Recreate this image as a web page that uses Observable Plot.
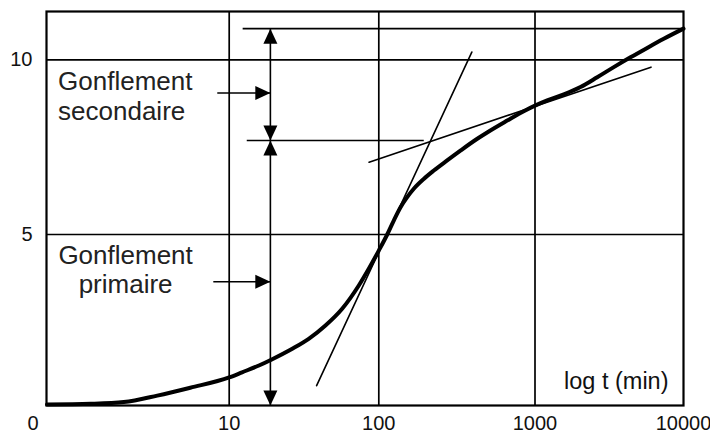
<!DOCTYPE html>
<html>
<head>
<meta charset="utf-8">
<script src="https://cdn.jsdelivr.net/npm/d3@7"></script>
<script src="https://cdn.jsdelivr.net/npm/@observablehq/plot@0.6"></script>
<style>
  html, body { margin: 0; padding: 0; background: #fff; }
  svg { display: block; }
</style>
</head>
<body>
<div id="chart"></div>
<script>
// ---- data ----
const timeMin  = [1, 1.74, 2.64, 4.03, 6.12, 10, 12.2, 15.8, 19.1, 26.4, 34.0, 44.0, 56.9, 73.5, 85.7, 100, 113.2, 124.7, 137.8, 152, 167.5, 194, 225, 274, 333, 427, 494, 664, 847, 1000, 1208, 1563, 2025, 2624, 3394, 4396, 5698, 7365, 10000];
const swelling = [0.03, 0.05, 0.10, 0.29, 0.52, 0.82, 0.97, 1.17, 1.34, 1.66, 1.95, 2.34, 2.83, 3.51, 4.00, 4.53, 5.00, 5.40, 5.78, 6.07, 6.31, 6.59, 6.83, 7.12, 7.40, 7.74, 7.92, 8.26, 8.53, 8.69, 8.84, 9.01, 9.22, 9.50, 9.79, 10.07, 10.34, 10.60, 10.89];

const steepTangentT = [38.4, 394];
const steepTangentY = [0.58, 10.22];
const slowTangentT  = [86.1, 6040];
const slowTangentY  = [7.07, 9.79];

const levelFinal = 10.89;     // end of swelling
const levelPrimary = 7.69;    // end of primary swelling
const levelStartT = [12.3, 13.1];
const levelEndT = [10000, 194];
const measureT = 18.85;       // t of the vertical dimension arrow

const xTicks = [10, 100, 1000, 10000];
const yTicks = [5, 10];
const xGrid = [10, 100, 1000];
const yGrid = [5, 10];

const labelSecondary = ["Gonflement", "secondaire"];
const labelPrimary = ["Gonflement", "primaire"];
const labelSecondaryPos = {t: 1.15, y: 8.29, arrowFromT: 8.6, arrowY: 9.05};
const labelPrimaryPos = {t: 2.70, y: 3.30, arrowFromT: 8.18, arrowY: 3.62};
const axisTitle = "log t (min)";
const originLabel = "0";

// ---- derived tables ----
const curve = timeMin.map((t, i) => ({t, y: swelling[i]}));
const steep = steepTangentT.map((t, i) => ({t, y: steepTangentY[i]}));
const slow = slowTangentT.map((t, i) => ({t, y: slowTangentY[i]}));
const levels = [
  {t1: levelStartT[0], t2: levelEndT[0], y: levelFinal},
  {t1: levelStartT[1], t2: levelEndT[1], y: levelPrimary}
];
const shafts = [
  {x1: measureT, x2: measureT, y1: 0, y2: levelFinal},
  {x1: labelSecondaryPos.arrowFromT, x2: measureT, y1: labelSecondaryPos.arrowY, y2: labelSecondaryPos.arrowY},
  {x1: labelPrimaryPos.arrowFromT, x2: measureT, y1: labelPrimaryPos.arrowY, y2: labelPrimaryPos.arrowY}
];
const heads = [
  {t: measureT, y: levelFinal, rot: 0},
  {t: measureT, y: levelPrimary, rot: 180},
  {t: measureT, y: levelPrimary, rot: 0},
  {t: measureT, y: 0, rot: 180},
  {t: measureT, y: labelSecondaryPos.arrowY, rot: 90},
  {t: measureT, y: labelPrimaryPos.arrowY, rot: 90}
];

// filled arrowhead, tip at origin, pointing up
const arrowHead = {
  draw(ctx, size) {
    const r = Math.sqrt(size / Math.PI);
    const h = 2.15 * r;
    ctx.moveTo(0, 0);
    ctx.lineTo(r, h);
    ctx.lineTo(-r, h);
    ctx.closePath();
  }
};

const font = "'Liberation Sans', Arial, Helvetica, sans-serif";

const chart = Plot.plot({
  width: 710,
  height: 434,
  marginLeft: 46,
  marginRight: 27,
  marginTop: 11,
  marginBottom: 29,
  style: {fontFamily: font, fontSize: "20px", color: "#000", background: "#fff"},
  x: {type: "log", domain: [1, 10, 100, 1000, 10000], range: [46.5, 228.7, 378.3, 534.5, 683]},
  y: {type: "linear", domain: [0, 5, 10, 11.38], range: [405, 234, 59.3, 11]},
  marks: [
    Plot.ruleX(xGrid, {stroke: "#000", strokeWidth: 1.7}),
    Plot.ruleY(yGrid, {stroke: "#000", strokeWidth: 1.7}),
    Plot.frame({stroke: "#000", strokeWidth: 2.2}),
    Plot.axisX(xTicks, {tickSize: 0, tickPadding: 10, tickFormat: d => String(d), fontSize: 20, label: null, fill: "#111"}),
    Plot.axisY(yTicks, {tickSize: 0, tickPadding: 14, tickFormat: d => String(d), fontSize: 20, label: null, fill: "#111"}),
    Plot.text([originLabel], {x: () => 1, y: () => 0, text: d => d, dx: -14, dy: 10, lineAnchor: "top", fontSize: 20, fill: "#111"}),
    Plot.text([axisTitle], {x: () => 10000, y: () => 0, text: d => d, dx: -15, dy: -17, textAnchor: "end", lineAnchor: "bottom", fontSize: 23.5, fill: "#111"}),
    // levels and tangents
    Plot.link(levels, {x1: "t1", x2: "t2", y1: "y", y2: "y", stroke: "#000", strokeWidth: 1.6}),
    Plot.line(steep, {x: "t", y: "y", stroke: "#000", strokeWidth: 1.6}),
    Plot.line(slow, {x: "t", y: "y", stroke: "#000", strokeWidth: 1.6}),
    // dimension arrows
    Plot.link(shafts, {x1: "x1", x2: "x2", y1: "y1", y2: "y2", stroke: "#000", strokeWidth: 1.6}),
    Plot.dot(heads, {x: "t", y: "y", rotate: "rot", symbol: arrowHead, r: 7, fill: "#000", stroke: "none"}),
    // swelling curve
    Plot.line(curve, {x: "t", y: "y", stroke: "#000", strokeWidth: 4, curve: "monotone-x"}),
    // labels
    Plot.text([labelSecondary.join("\n")], {x: () => labelSecondaryPos.t, y: () => labelSecondaryPos.y, text: d => d, textAnchor: "start", lineAnchor: "bottom", lineHeight: 1.12, fontSize: 26, fill: "#222"}),
    Plot.text([labelPrimary.join("\n")], {x: () => labelPrimaryPos.t, y: () => labelPrimaryPos.y, text: d => d, textAnchor: "middle", lineAnchor: "bottom", lineHeight: 1.12, fontSize: 26, fill: "#222"})
  ]
});

document.getElementById("chart").appendChild(chart);
</script>
</body>
</html>
